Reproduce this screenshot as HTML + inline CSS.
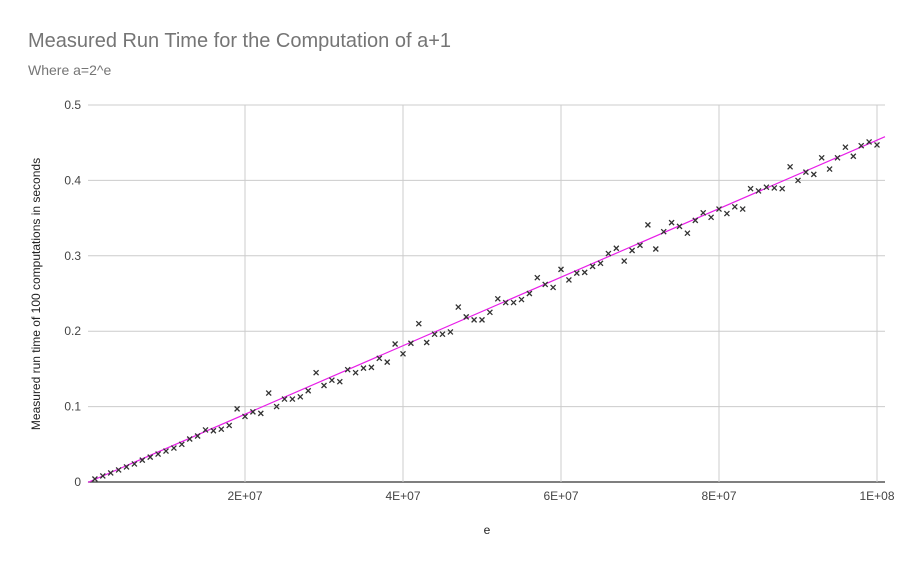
<!DOCTYPE html>
<html><head><meta charset="utf-8"><style>
body{margin:0;background:#fff;font-family:"Liberation Sans",sans-serif}
</style></head><body>
<svg id="chart" width="914" height="565" xmlns="http://www.w3.org/2000/svg" style="font-family:'Liberation Sans',sans-serif">
<text x="28" y="47" font-size="20" fill="#757575">Measured Run Time for the Computation of a+1</text>
<text x="28" y="75" font-size="14" fill="#757575">Where a=2^e</text>
<g id="grid"></g>
<g id="pts"></g>
<text x="487" y="534" font-size="12" fill="#222" text-anchor="middle">e</text>
<text transform="translate(40,294) rotate(-90)" font-size="12" fill="#222" text-anchor="middle">Measured run time of 100 computations in seconds</text>
</svg>
<script>
const yVals=[0.004,0.008,0.012,0.016,0.02,0.024,0.029,0.033,0.037,0.041,0.045,0.05,0.057,0.061,0.069,0.068,0.07,0.075,0.097,0.087,0.093,0.091,0.118,0.1,0.11,0.11,0.113,0.121,0.145,0.128,0.135,0.133,0.149,0.145,0.151,0.152,0.164,0.159,0.183,0.17,0.184,0.21,0.185,0.196,0.196,0.199,0.232,0.219,0.215,0.215,0.225,0.243,0.238,0.238,0.242,0.25,0.271,0.262,0.258,0.282,0.268,0.277,0.278,0.286,0.29,0.303,0.31,0.293,0.307,0.314,0.341,0.309,0.332,0.344,0.339,0.33,0.347,0.357,0.351,0.362,0.356,0.365,0.362,0.389,0.386,0.391,0.39,0.389,0.418,0.4,0.411,0.408,0.43,0.415,0.43,0.444,0.432,0.446,0.451,0.447];
const xStep=1e6;
const xTicks=[2e7,4e7,6e7,8e7,1e8];
const xTickLabels=["2E+07","4E+07","6E+07","8E+07","1E+08"];
const yTicks=[0,0.1,0.2,0.3,0.4,0.5];
const yTickLabels=["0","0.1","0.2","0.3","0.4","0.5"];
const trend=[-0.0005,0.00000000454];
const NS="http://www.w3.org/2000/svg";
const L=88,R=885,T=105,B=482;
const xs=v=>87+v/1e8*790;
const ys=v=>B-v/0.5*(B-T);
const g=document.getElementById('grid'),p=document.getElementById('pts');
function mk(tag,at,par){const e=document.createElementNS(NS,tag);for(const k in at)e.setAttribute(k,at[k]);par.appendChild(e);return e;}
yTicks.forEach((t,i)=>{
 const l=mk('line',{x1:L,x2:R,y1:ys(t),y2:ys(t),stroke:i==0?'#333':'#ccc','stroke-width':i==0?1.3:1},g);
 
 
 const tx=mk('text',{x:81,y:ys(t)+4,'font-size':12,fill:'#444','text-anchor':'end'},g);
 tx.textContent=yTickLabels[i];
 
 
});
xTicks.forEach((t,i)=>{
 const l=mk('line',{x1:xs(t),x2:xs(t),y1:T,y2:B,stroke:'#ccc'},g);
 
 
 const tx=mk('text',{x:xs(t),y:500,'font-size':12,fill:'#444','text-anchor':'middle'},g);
 tx.textContent=xTickLabels[i];
 
 
});
const x0=0,x1=1.01e8;
const tl=mk('line',{x1:L,y1:ys(trend[0]+trend[1]*x0),x2:R,y2:ys(trend[0]+trend[1]*x1),stroke:'#e81ee8','stroke-width':1.2},p);


yVals.forEach((v,i)=>{
 const cx=xs((i+1)*xStep),cy=ys(v);
 const pt=mk('path',{d:`M${cx-2.5},${cy-2.5}L${cx+2.5},${cy+2.5}M${cx-2.5},${cy+2.5}L${cx+2.5},${cy-2.5}`,stroke:'#333','stroke-width':1.3},p);
 
 
});
</script>
</body></html>
